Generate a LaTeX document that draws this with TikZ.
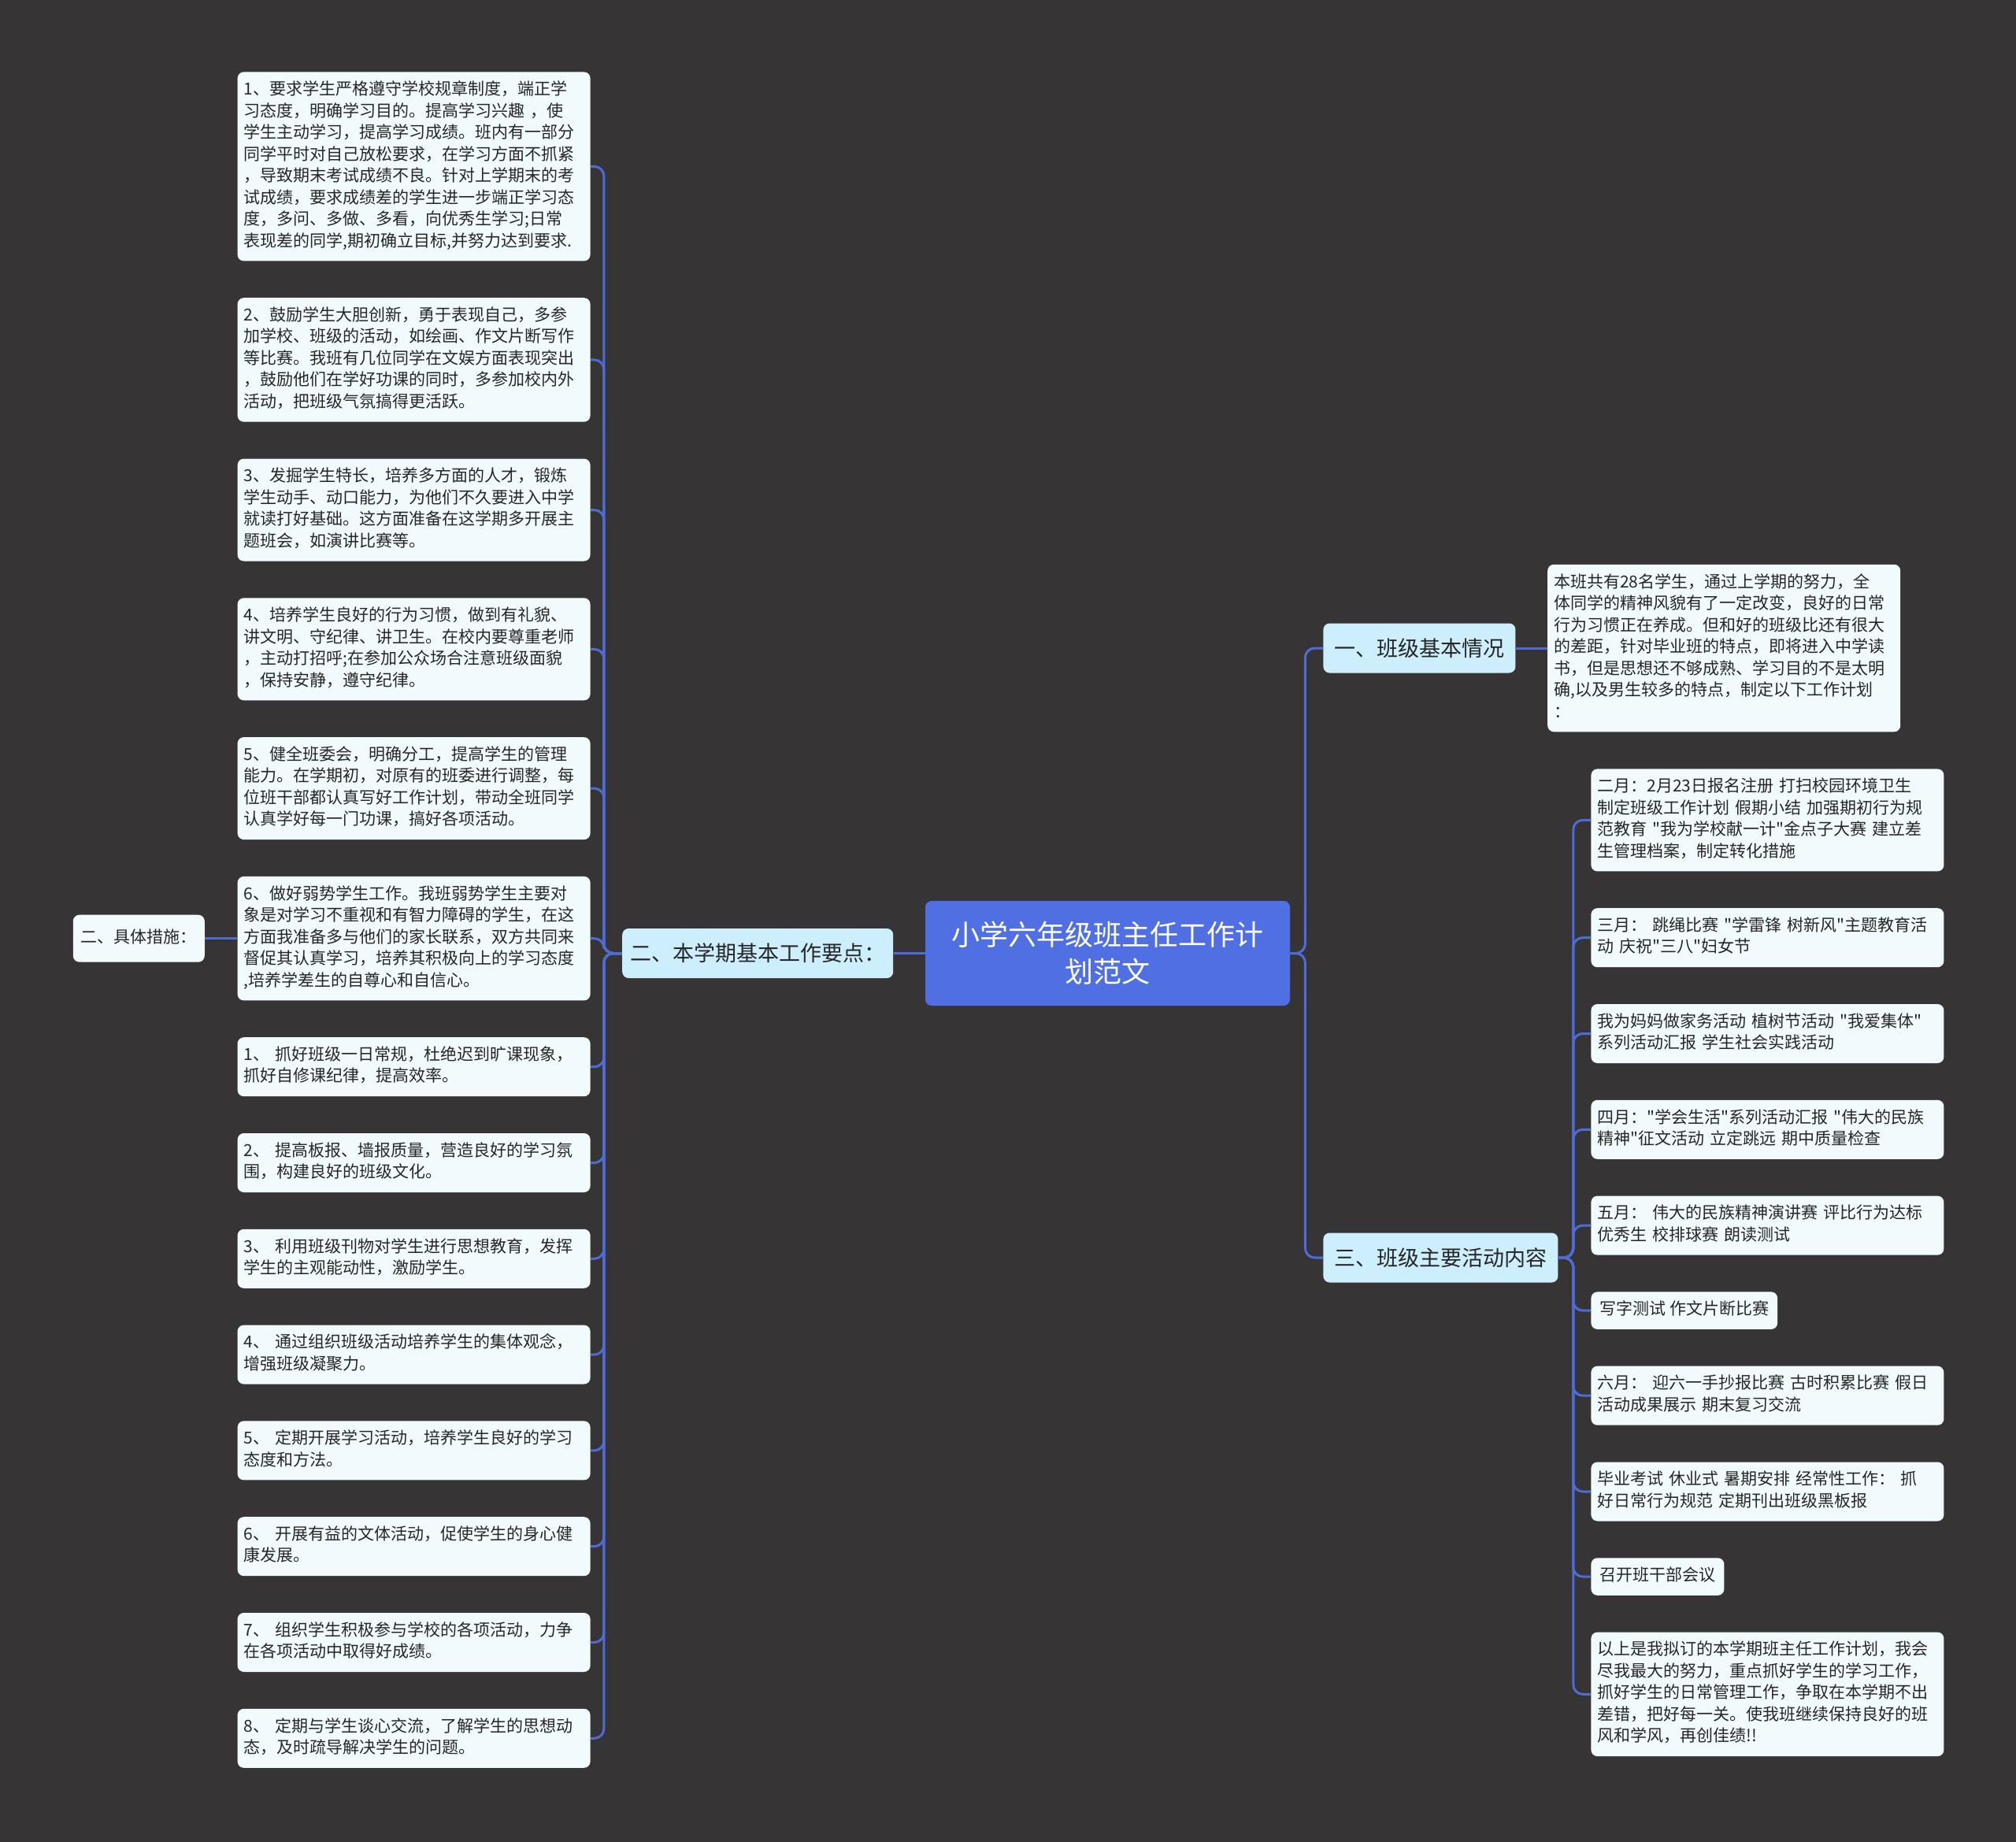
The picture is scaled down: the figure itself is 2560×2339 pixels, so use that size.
\documentclass[tikz,border=0pt]{standalone}
\usepackage{fontspec}
\newfontfamily\cjkfont{Noto Sans CJK SC}
\usetikzlibrary{positioning}
\definecolor{bgdark}{RGB}{54,52,53}
\definecolor{rootblue}{RGB}{80,111,226}
\definecolor{linkblue}{RGB}{79,108,214}
\definecolor{secfill}{RGB}{205,238,252}
\definecolor{notefill}{RGB}{241,251,253}
\definecolor{inkgray}{RGB}{38,38,38}
\newcommand{\notefont}{\cjkfont\fontsize{10.5pt}{13.75pt}\selectfont}
\newcommand{\secfont}{\cjkfont\fontsize{13.5pt}{17pt}\selectfont}
\newcommand{\rootfont}{\cjkfont\fontsize{18pt}{23.5pt}\selectfont}

\begin{document}
\begin{tikzpicture}[
  x=0.5pt, y=-0.5pt,
  node distance = 23pt,
  root/.style = {rectangle, rounded corners=4pt, fill=rootblue, text=white,
                 font=\rootfont, text width=200pt, align=center,
                 minimum width=231.5pt, minimum height=66.5pt},
  sec/.style  = {rectangle, rounded corners=4pt, fill=secfill, text=inkgray,
                 font=\secfont, inner xsep=7pt, minimum height=31.5pt},
  leaf/.style = {rectangle, rounded corners=4pt, fill=notefill, text=inkgray,
                 font=\notefont, inner xsep=5.5pt, inner ysep=5pt,
                 execute at begin node=\strut, execute at end node=\strut},
  note/.style = {leaf, text width=216pt, align=left, inner xsep=4pt},
  link/.style = {draw=linkblue, line width=1.5pt, rounded corners=6pt},
]
\fill[bgdark] (0,0) rectangle (2560,2339);
\useasboundingbox (0,0) rectangle (2560,2339);

\node[root] (root) at (1406.5,1210.5) {小学六年级班主任工作计\\划范文};
\node[sec, left=20pt of root, inner xsep=5pt] (sec2) {二、本学期基本工作要点：};
\node[sec, anchor=west] (sec1) at (1680,823) {一、班级基本情况};
\node[sec, anchor=west] (sec3) at (1680,1597) {三、班级主要活动内容};

% left column
\node[note, anchor=north east] (m1) at (750,91)
  {1、要求学生严格遵守学校规章制度，端正学\\
   习态度，明确学习目的。提高学习兴趣 ，使\\
   学生主动学习，提高学习成绩。班内有一部分\\
   同学平时对自己放松要求，在学习方面不抓紧\\
   ，导致期末考试成绩不良。针对上学期末的考\\
   试成绩，要求成绩差的学生进一步端正学习态\\
   度，多问、多做、多看，向优秀生学习;日常\\
   表现差的同学,期初确立目标,并努力达到要求.};
\node[note, below=of m1] (m2)
  {2、鼓励学生大胆创新，勇于表现自己，多参\\
   加学校、班级的活动，如绘画、作文片断写作\\
   等比赛。我班有几位同学在文娱方面表现突出\\
   ，鼓励他们在学好功课的同时，多参加校内外\\
   活动，把班级气氛搞得更活跃。};
\node[note, below=of m2] (m3)
  {3、发掘学生特长，培养多方面的人才，锻炼\\
   学生动手、动口能力，为他们不久要进入中学\\
   就读打好基础。这方面准备在这学期多开展主\\
   题班会，如演讲比赛等。};
\node[note, below=of m3] (m4)
  {4、培养学生良好的行为习惯，做到有礼貌、\\
   讲文明、守纪律、讲卫生。在校内要尊重老师\\
   ，主动打招呼;在参加公众场合注意班级面貌\\
   ，保持安静，遵守纪律。};
\node[note, below=of m4] (m5)
  {5、健全班委会，明确分工，提高学生的管理\\
   能力。在学期初，对原有的班委进行调整，每\\
   位班干部都认真写好工作计划，带动全班同学\\
   认真学好每一门功课，搞好各项活动。};
\node[note, below=of m5] (m6)
  {6、做好弱势学生工作。我班弱势学生主要对\\
   象是对学习不重视和有智力障碍的学生，在这\\
   方面我准备多与他们的家长联系，双方共同来\\
   督促其认真学习，培养其积极向上的学习态度\\
   ,培养学差生的自尊心和自信心。};
\node[note, below=of m6] (m7)
  {1、 抓好班级一日常规，杜绝迟到旷课现象，\\抓好自修课纪律，提高效率。};
\node[note, below=of m7] (m8)
  {2、 提高板报、墙报质量，营造良好的学习氛\\围，构建良好的班级文化。};
\node[note, below=of m8] (m9)
  {3、 利用班级刊物对学生进行思想教育，发挥\\学生的主观能动性，激励学生。};
\node[note, below=of m9] (m10)
  {4、 通过组织班级活动培养学生的集体观念，\\增强班级凝聚力。};
\node[note, below=of m10] (m11)
  {5、 定期开展学习活动，培养学生良好的学习\\态度和方法。};
\node[note, below=of m11] (m12)
  {6、 开展有益的文体活动，促使学生的身心健\\康发展。};
\node[note, below=of m12] (m13)
  {7、 组织学生积极参与学校的各项活动，力争\\在各项活动中取得好成绩。};
\node[note, below=of m13] (m14)
  {8、 定期与学生谈心交流，了解学生的思想动\\态，及时疏导解决学生的问题。};
\node[leaf, left=20.5pt of m6, minimum height=30pt, inner xsep=5pt] (sub) {二、具体措施：};

% right column
\node[note, right=20pt of sec1] (s1)
  {本班共有28名学生，通过上学期的努力，全\\
   体同学的精神风貌有了一定改变，良好的日常\\
   行为习惯正在养成。但和好的班级比还有很大\\
   的差距，针对毕业班的特点，即将进入中学读\\
   书，但是思想还不够成熟、学习目的不是太明\\
   确,以及男生较多的特点，制定以下工作计划\\
   ：};
\node[note, anchor=north west] (a1) at (2020,976)
  {二月：2月23日报名注册 打扫校园环境卫生\\
   制定班级工作计划 假期小结 加强期初行为规\\
   范教育 "我为学校献一计"金点子大赛 建立差\\
   生管理档案，制定转化措施};
\node[note, below=of a1.south west, anchor=north west] (a2)
  {三月：\ 跳绳比赛 "学雷锋 树新风"主题教育活\\动 庆祝"三八"妇女节};
\node[note, below=of a2.south west, anchor=north west] (a3)
  {我为妈妈做家务活动 植树节活动 "我爱集体"\\系列活动汇报 学生社会实践活动};
\node[note, below=of a3.south west, anchor=north west] (a4)
  {四月："学会生活"系列活动汇报 "伟大的民族\\精神"征文活动 立定跳远 期中质量检查};
\node[note, below=of a4.south west, anchor=north west] (a5)
  {五月：\ 伟大的民族精神演讲赛 评比行为达标\\优秀生 校排球赛 朗读测试};
\node[leaf, below=of a5.south west, anchor=north west] (a6) {写字测试 作文片断比赛};
\node[note, below=of a6.south west, anchor=north west] (a7)
  {六月：\ 迎六一手抄报比赛 古时积累比赛 假日\\活动成果展示 期末复习交流};
\node[note, below=of a7.south west, anchor=north west] (a8)
  {毕业考试 休业式 暑期安排 经常性工作：\ 抓\\好日常行为规范 定期刊出班级黑板报};
\node[leaf, below=of a8.south west, anchor=north west] (a9) {召开班干部会议};
\node[note, below=of a9.south west, anchor=north west] (a10)
  {以上是我拟订的本学期班主任工作计划，我会\\
   尽我最大的努力，重点抓好学生的学习工作，\\
   抓好学生的日常管理工作，争取在本学期不出\\
   差错，把好每一关。使我班继续保持良好的班\\
   风和学风，再创佳绩!!};

% connectors
\draw[link] (root.west) -- (sec2.east);
\draw[link] (sec2.west) -- ++(-23,0) |- (m1.east);
\draw[link] (sec2.west) -- ++(-23,0) |- (m2.east);
\draw[link] (sec2.west) -- ++(-23,0) |- (m3.east);
\draw[link] (sec2.west) -- ++(-23,0) |- (m4.east);
\draw[link] (sec2.west) -- ++(-23,0) |- (m5.east);
\draw[link] (sec2.west) -- ++(-23,0) |- (m6.east);
\draw[link] (sec2.west) -- ++(-23,0) |- (m7.east);
\draw[link] (sec2.west) -- ++(-23,0) |- (m8.east);
\draw[link] (sec2.west) -- ++(-23,0) |- (m9.east);
\draw[link] (sec2.west) -- ++(-23,0) |- (m10.east);
\draw[link] (sec2.west) -- ++(-23,0) |- (m11.east);
\draw[link] (sec2.west) -- ++(-23,0) |- (m12.east);
\draw[link] (sec2.west) -- ++(-23,0) |- (m13.east);
\draw[link] (sec2.west) -- ++(-23,0) |- (m14.east);
\draw[link] (m6.west) -- (sub.east);
\draw[link] (root.east) -- ++(19,0) |- (sec1.west);
\draw[link] (root.east) -- ++(19,0) |- (sec3.west);
\draw[link] (sec1.east) -- (s1.west);
\draw[link] (sec3.east) -- ++(19,0) |- (a1.west);
\draw[link] (sec3.east) -- ++(19,0) |- (a2.west);
\draw[link] (sec3.east) -- ++(19,0) |- (a3.west);
\draw[link] (sec3.east) -- ++(19,0) |- (a4.west);
\draw[link] (sec3.east) -- ++(19,0) |- (a5.west);
\draw[link] (sec3.east) -- ++(19,0) |- (a6.west);
\draw[link] (sec3.east) -- ++(19,0) |- (a7.west);
\draw[link] (sec3.east) -- ++(19,0) |- (a8.west);
\draw[link] (sec3.east) -- ++(19,0) |- (a9.west);
\draw[link] (sec3.east) -- ++(19,0) |- (a10.west);
\end{tikzpicture}
\end{document}
